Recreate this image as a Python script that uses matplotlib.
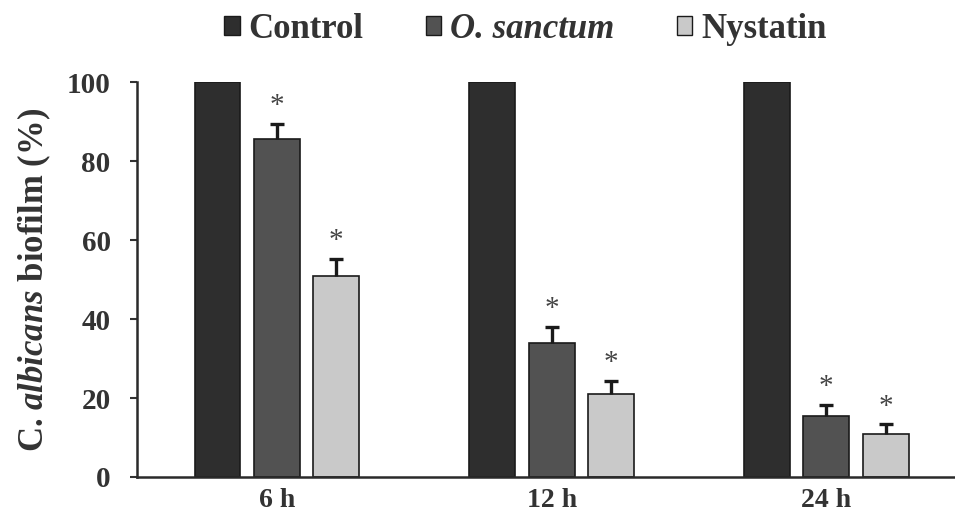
import matplotlib
matplotlib.use("Agg")
import matplotlib.pyplot as plt
import numpy as np
from matplotlib.patches import Patch

plt.rcParams['mathtext.fontset'] = 'custom'
plt.rcParams['mathtext.rm'] = 'Liberation Serif:bold'
plt.rcParams['mathtext.it'] = 'Liberation Serif:italic:bold'
plt.rcParams['mathtext.bf'] = 'Liberation Serif:bold'

groups = ["6 h", "12 h", "24 h"]
series = ["Control", "O. sanctum", "Nystatin"]
control = [100, 100, 100]
sanctum = [85.5, 34.0, 15.5]
nystatin = [51.0, 21.0, 11.0]
sanctum_err = [4.0, 4.0, 2.7]
nystatin_err = [4.3, 3.3, 2.3]
yticks = [0, 20, 40, 60, 80, 100]

colors = ["#2e2e2e", "#525252", "#c9c9c9"]
edge = "#1a1a1a"

fig = plt.figure(figsize=(9.55, 5.23), dpi=100)
ax = fig.add_axes([0.1435, 0.088, 0.8555, 0.755])

x = np.arange(len(groups))
w = 0.167
off = 0.216
vals = [control, sanctum, nystatin]
errs = [None, sanctum_err, nystatin_err]
for i, (v, e, c) in enumerate(zip(vals, errs, colors)):
    pos = x + (i - 1) * off
    ax.bar(pos, v, width=w, color=c, edgecolor=edge, linewidth=1.2, zorder=2)
    if e is not None:
        _, caps, _ = ax.errorbar(pos, v, yerr=[np.zeros(len(e)), e], fmt='none',
                                 ecolor="#1a1a1a", elinewidth=2.4, capsize=5,
                                 capthick=2.4, zorder=3)
        caps[0].set_visible(False)
        for p, vv, ee in zip(pos, v, e):
            ax.text(p, vv + ee + 1.2, "*", ha='center', va='bottom', fontsize=21,
                    family='Liberation Serif', color="#444444")

ax.set_xlim(-0.509, 2.465)
ax.set_ylim(0, 100)
ax.set_yticks(yticks)
ax.set_yticklabels([str(t) for t in yticks], fontsize=21, fontweight='bold',
                   family='Liberation Serif', color="#333333")
ax.set_xticks(x)
ax.set_xticklabels(groups, fontsize=20, fontweight='bold', family='Liberation Serif',
                   color="#333333")
ax.tick_params(axis='x', length=0, pad=8)
ax.tick_params(axis='y', length=5, width=1.5, color="#333333", pad=14)
for s in ['top', 'right']:
    ax.spines[s].set_visible(False)
for s in ['left', 'bottom']:
    ax.spines[s].set_linewidth(1.8)
    ax.spines[s].set_color("#2a2a2a")

ax.set_ylabel(r"C. $\it{albicans}$ biofilm (%)", fontsize=25, color="#333333",
              fontweight='bold', family='Liberation Serif', labelpad=10)

handles = [Patch(facecolor=c, edgecolor=edge, linewidth=1.0) for c in colors]
leg = fig.legend(handles, series, loc='upper center', bbox_to_anchor=(0.55, 1.035),
                 ncol=3, frameon=False, handlelength=0.45, handleheight=0.45,
                 handletextpad=0.25, columnspacing=1.8,
                 prop={'family': 'Liberation Serif', 'weight': 'bold', 'size': 25})
for t in leg.get_texts():
    t.set_color("#333333")
leg.get_texts()[1].set_fontstyle('italic')

fig.savefig("out.png", dpi=100)
